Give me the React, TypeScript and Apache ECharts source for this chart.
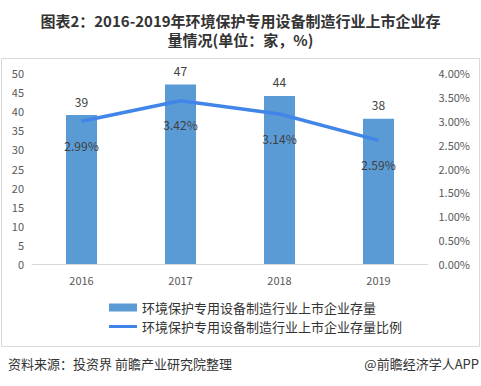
import React, { useEffect, useRef } from "react";
import * as echarts from "echarts";

const categories = ["2016", "2017", "2018", "2019"];
const companyCounts = [39, 47, 44, 38];
const companyRatios = [0.0299, 0.0342, 0.0314, 0.0259];
const barName = "环境保护专用设备制造行业上市企业存量";
const lineName = "环境保护专用设备制造行业上市企业存量比例";
const titleLine1 = "图表2：2016-2019年环境保护专用设备制造行业上市企业存";
const titleLine2 = "量情况(单位：家，%)";
const sourceText = "资料来源：投资界 前瞻产业研究院整理";
const brandText = "@前瞻经济学人APP";

const FONT = '"Noto Sans CJK SC", "Liberation Sans", sans-serif';

export default function App() {
  const ref = useRef<HTMLDivElement>(null);
  useEffect(() => {
    if (!ref.current) return;
    const chart = echarts.init(ref.current, null, { renderer: "svg" });
    const titleStyle = { fontSize: 15, fontWeight: "bold", color: "#333333", fontFamily: FONT, lineHeight: 17 };
    chart.setOption({
      animation: false,
      backgroundColor: "#ffffff",
      textStyle: { fontFamily: FONT },
      title: [
        { text: titleLine1, left: "center", top: 12, padding: 0, textStyle: titleStyle },
        { text: titleLine2, left: "center", top: 31, padding: 0, textStyle: titleStyle },
      ],
      graphic: [
        {
          type: "rect",
          shape: { x: 1.5, y: 58.5, width: 478, height: 288 },
          style: { fill: "none", stroke: "#d9d9d9", lineWidth: 1 },
          silent: true,
        },
        {
          type: "text",
          left: 8,
          top: 357,
          style: { text: sourceText, fontSize: 13, fill: "#333333", fontFamily: FONT },
        },
        {
          type: "text",
          right: 2,
          top: 357,
          style: { text: brandText, fontSize: 13, fill: "#333333", fontFamily: FONT },
        },
      ],
      legend: {
        orient: "vertical",
        left: 104,
        top: 296,
        itemGap: 6,
        itemWidth: 28,
        itemHeight: 8,
        textStyle: { fontSize: 13, color: "#333333", fontFamily: FONT },
        data: [
          { name: barName, icon: "rect" },
          { name: lineName, icon: "path://M0,0 L28,0 L28,3 L0,3 Z" },
        ],
      },
      grid: { left: 32, right: 53, top: 73, bottom: 122 },
      xAxis: {
        type: "category",
        data: categories,
        axisTick: { show: false },
        axisLine: { lineStyle: { color: "#d9d9d9" } },
        axisLabel: { color: "#595959", fontSize: 11, margin: 10 },
      },
      yAxis: [
        {
          type: "value",
          min: 0,
          max: 50,
          interval: 5,
          splitLine: { show: false },
          axisLine: { show: false },
          axisTick: { show: false },
          axisLabel: { color: "#595959", fontSize: 11, margin: 8 },
        },
        {
          type: "value",
          min: 0,
          max: 0.04,
          interval: 0.005,
          splitLine: { show: false },
          axisLine: { show: false },
          axisTick: { show: false },
          axisLabel: {
            color: "#595959",
            fontSize: 11,
            align: "right",
            margin: 42,
            formatter: (v: number) => (v * 100).toFixed(2) + "%",
          },
        },
      ],
      series: [
        {
          name: barName,
          type: "bar",
          data: companyCounts,
          barWidth: 31,
          itemStyle: { color: "#5b9bd5" },
          label: { show: true, position: "top", distance: 8, color: "#404040", fontSize: 12 },
        },
        {
          name: lineName,
          type: "line",
          yAxisIndex: 1,
          data: companyRatios,
          symbol: "circle",
          symbolSize: 0.1,
          showSymbol: true,
          lineStyle: { color: "#4285e8", width: 3.5 },
          itemStyle: { color: "#4285e8" },
          label: {
            show: true,
            position: "bottom",
            distance: 18,
            color: "#404040",
            fontSize: 12,
            formatter: (p: any) => (p.value * 100).toFixed(2) + "%",
          },
        },
      ],
    });
    return () => chart.dispose();
  }, []);
  return (
    <div
      ref={ref}
      style={{ position: "fixed", left: 0, top: 0, width: 481, height: 386 }}
    />
  );
}
